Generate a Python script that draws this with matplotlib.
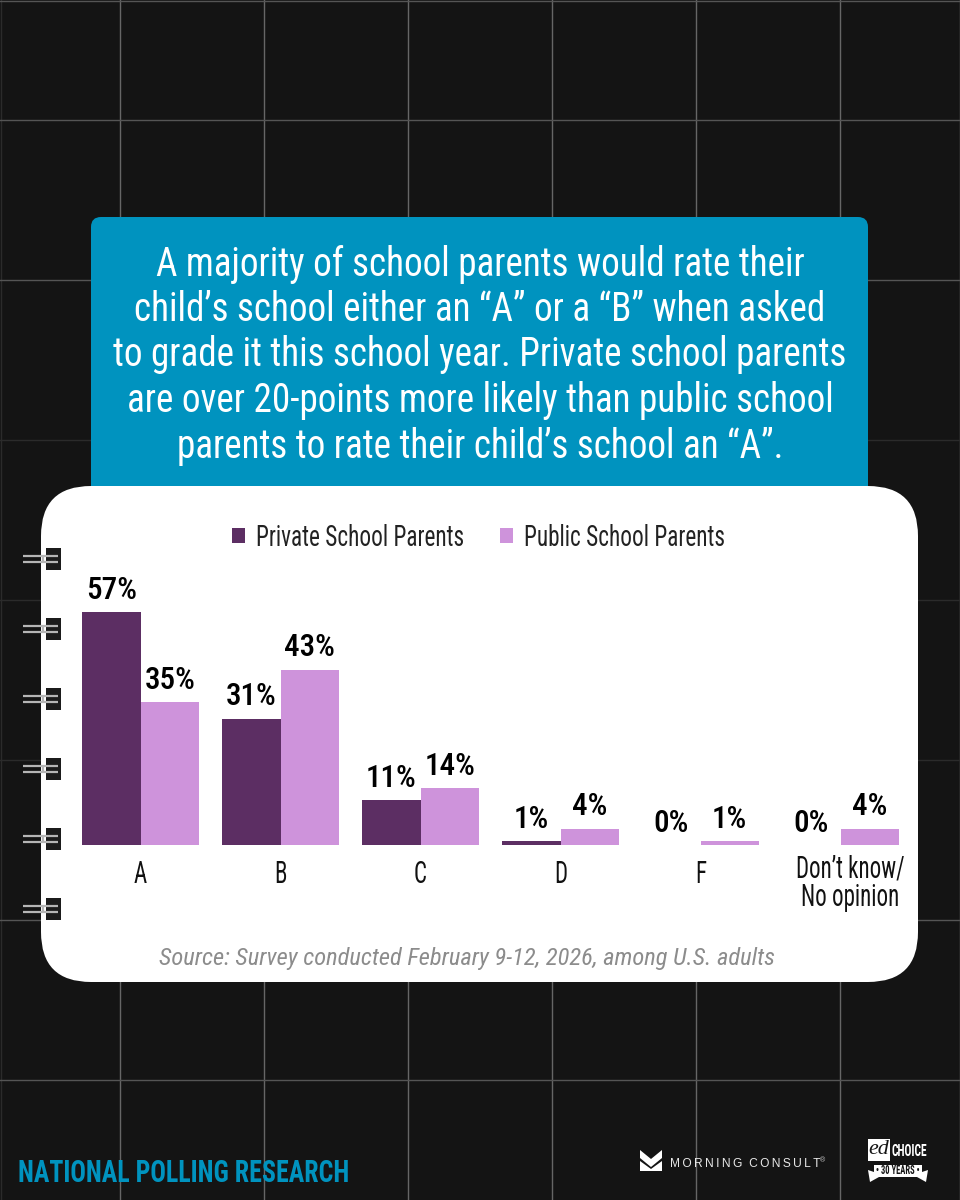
import numpy as np
import matplotlib
matplotlib.use("Agg")
import matplotlib.pyplot as plt
from matplotlib import font_manager as fm
from matplotlib.patches import FancyBboxPatch, Rectangle, Polygon
from matplotlib.transforms import ScaledTranslation
from fontTools.ttLib import TTFont
from fontTools.ttLib.tables._g_l_y_f import GlyphCoordinates


def narrow_font(weight, scale, name):
    # no font here is as condensed as the original, so squeeze a copy of Roboto Condensed
    src = fm.findfont(fm.FontProperties(family="Roboto Condensed", weight=weight))
    font = TTFont(src)
    glyf = font["glyf"]
    for gname in glyf.keys():
        g = glyf[gname]
        if g.isComposite():
            for c in g.components:
                c.x = round(c.x * scale)
        elif g.numberOfContours > 0:
            g.coordinates = GlyphCoordinates([(round(px * scale), py) for px, py in g.coordinates])
    hmtx = font["hmtx"]
    for gname in hmtx.metrics:
        adv, lsb = hmtx.metrics[gname]
        hmtx.metrics[gname] = (round(adv * scale), round(lsb * scale))
    for rec in font["name"].names:
        if rec.nameID in (1, 4, 16):
            rec.string = name
    path = name.replace(" ", "") + ".ttf"
    font.save(path)
    fm.fontManager.addfont(path)
    return name


FONT_TITLE = narrow_font("regular", 0.94, "Narrow Title")
FONT_TICK = narrow_font("regular", 0.74, "Narrow Tick")
FONT_LEG = narrow_font("regular", 0.80, "Narrow Legend")
FONT_FOOT = narrow_font("bold", 0.835, "Narrow Foot")
FONT_LOGO = narrow_font("bold", 0.68, "Narrow Logo")

plt.rcParams["font.family"] = ["Roboto Condensed", "DejaVu Sans"]

grades = ["A", "B", "C", "D", "F", "Don\u2019t know/\nNo opinion"]
private_vals = [57, 31, 11, 1, 0, 0]
public_vals = [35, 43, 14, 4, 1, 4]
series_names = ["Private School Parents", "Public School Parents"]

title_lines = [
    "A majority of school parents would rate their",
    "child\u2019s school either an \u201cA\u201d or a \u201cB\u201d when asked",
    "to grade it this school year. Private school parents",
    "are over 20-points more likely than public school",
    "parents to rate their child\u2019s school an \u201cA\u201d.",
]
source = "Source: Survey conducted February 9-12, 2026, among U.S. adults"

BG = "#141414"
BLUE = "#0093BF"
DARK = "#5C2E63"
LIGHT = "#CE93DB"
W, H = 960, 1200
PT = 0.72  # px to pt at dpi 100

fig = plt.figure(figsize=(W / 100, H / 100), dpi=100, facecolor=BG)

# background layer in pixel coords
bg = fig.add_axes([0, 0, 1, 1])
bg.set_xlim(0, W)
bg.set_ylim(H, 0)
bg.axis("off")

bg.plot([0.5, 0.5], [0, H], color="#2b2b2b", lw=1)
for x in [120, 264, 408, 552, 696, 840, 959.5]:
    bg.plot([x, x], [0, H], color="#666666", lw=1)
for y in [0.5, 120, 280, 920, 1080]:
    bg.plot([0, W], [y, y], color="#555555", lw=1)
for y in [440, 600, 760]:
    bg.plot([0, W], [y, y], color="#2b2b2b", lw=1)

bg.add_patch(FancyBboxPatch((101, 227), 757, 270, boxstyle="round,pad=10,rounding_size=10",
                            fc=BLUE, ec="none", zorder=3))
for i, line in enumerate(title_lines):
    bg.text(480, 264 + i * 45.5, line, color="white", ha="center", va="center",
            fontsize=39.5 * PT, family=[FONT_TITLE], zorder=4)

bg.add_patch(FancyBboxPatch((91, 536), 777, 396, boxstyle="round,pad=50,rounding_size=50",
                            fc="white", ec="none", zorder=5))

# notebook rings
for y in [559, 629, 699, 769, 839, 909]:
    bg.add_patch(Rectangle((46, y - 11), 15, 22, fc="#1b1b1b", ec="none", zorder=6))
    bg.plot([23, 58], [y - 3, y - 3], color="#b5b5b5", lw=1.6, zorder=7, solid_capstyle="butt")
    bg.plot([23, 58], [y + 3, y + 3], color="#b5b5b5", lw=1.6, zorder=7, solid_capstyle="butt")
    bg.plot([43, 43], [y - 3, y + 3], color="#b5b5b5", lw=1.6, zorder=7, solid_capstyle="butt")

bg.text(467, 958, source, color="#8c8c8c", style="italic", ha="center", va="center",
        fontsize=24.5 * PT, zorder=8)

# footer
bg.text(18, 1173, "NATIONAL POLLING RESEARCH", color=BLUE, ha="left", va="center",
        fontsize=31 * PT, family=[FONT_FOOT])
bg.add_patch(Polygon([(640, 1150), (651, 1159), (662, 1150), (662, 1158), (651, 1167), (640, 1158)],
                     fc="white", ec="none"))
bg.add_patch(Polygon([(640, 1161), (651, 1169), (662, 1161), (662, 1171), (640, 1171)],
                     fc="white", ec="none"))
bg.text(670, 1164, "M\u2009O\u2009R\u2009N\u2009I\u2009N\u2009G  C\u2009O\u2009N\u2009S\u2009U\u2009L\u2009T",
        color="#e8e8e8", ha="left", va="center", fontsize=12 * PT, family=["Liberation Sans", "DejaVu Sans"])
bg.text(820, 1161, "\u00ae", color="#cccccc", ha="left", va="center", fontsize=7 * PT,
        family=["Liberation Sans"])
bg.add_patch(Rectangle((868, 1139), 22, 22, fc="white", ec="none"))
bg.text(879, 1150, "ed", color=BG, style="italic", ha="center", va="center", fontsize=22 * PT,
        family=["Liberation Serif"])
bg.text(892, 1152, "CHOICE", color="white", ha="left", va="center", fontsize=17 * PT, family=[FONT_LOGO])
bg.add_patch(Polygon([(874, 1165), (922, 1165), (922, 1172), (928, 1170), (926, 1182), (917, 1177),
                      (879, 1177), (870, 1182), (868, 1170), (874, 1172)],
                     fc="white", ec="none"))
bg.text(898, 1171, "\u2022 30 YEARS \u2022", color=BG, ha="center", va="center", fontsize=12.5 * PT,
        family=[FONT_LOGO])

# bars axes: baseline at y=845, category spacing 140 px
px_per_pct = 4.08
ax_left, ax_right, ax_top, ax_bot = 70.5, 910.5, 520, 845
ax = fig.add_axes([ax_left / W, 1 - ax_bot / H, (ax_right - ax_left) / W, (ax_bot - ax_top) / H])
ax.patch.set_alpha(0)
ax.set_zorder(10)
x = np.arange(len(grades))
bw = 58.5 / 140
b1 = ax.bar(x - bw / 2, private_vals, bw, color=DARK, label=series_names[0])
b2 = ax.bar(x + bw / 2, public_vals, bw, color=LIGHT, label=series_names[1])
ax.set_xlim(-0.5, 5.5)
ax.set_ylim(0, (ax_bot - ax_top) / px_per_pct)
for bars in (b1, b2):
    ax.bar_label(bars, labels=[f"{v}%" for v in bars.datavalues], padding=5.3, fontsize=31 * PT,
                 color="black", weight="medium")
ax.set_yticks([])
ax.set_xticks(x, grades, fontsize=31 * PT, color="#111111", linespacing=0.98, family=[FONT_TICK])
ax.tick_params(axis="x", length=0, pad=10.7)
# the two-line label sits a little right and higher than the others
last = ax.get_xticklabels()[-1]
last.set_transform(last.get_transform() + ScaledTranslation(10 / 100, 5.5 / 100, fig.dpi_scale_trans))
for s in ax.spines.values():
    s.set_visible(False)
leg = ax.legend(ncol=2, frameon=False, loc="center", bbox_to_anchor=(0.4857, (845 - 538) / 325),
                prop=fm.FontProperties(family=FONT_LEG, size=29 * PT), handlelength=0.45,
                handleheight=0.45, handletextpad=0.38, columnspacing=1.24, labelcolor="#222222")

fig.savefig("out.png", dpi=100, facecolor=BG)
